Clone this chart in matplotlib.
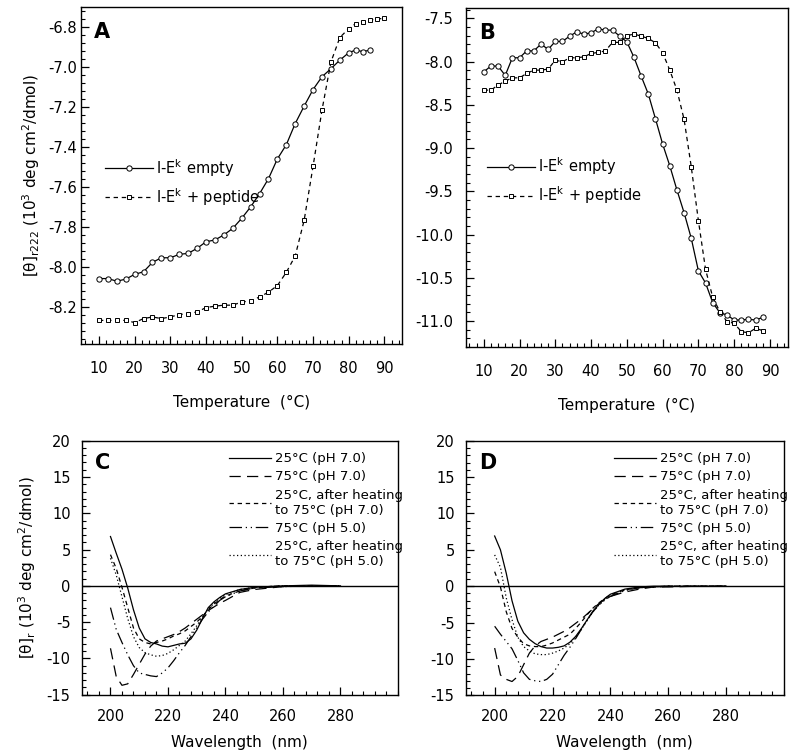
import matplotlib
matplotlib.use("Agg")
import matplotlib.pyplot as plt
from matplotlib.ticker import MultipleLocator, AutoMinorLocator, FormatStrFormatter

plt.rcParams['font.family'] = ['DejaVu Sans']
plt.rcParams['axes.unicode_minus'] = False
plt.rcParams['mathtext.default'] = 'regular'

# ---- Panel A: thermal melt, [theta] at 222 nm ----
tempA_empty = [10, 12.5, 15, 17.5, 20, 22.5, 25, 27.5, 30, 32.5, 35, 37.5, 40, 42.5, 45, 47.5,
               50, 52.5, 55, 57.5, 60, 62.5, 65, 67.5, 70, 72.5, 75, 77.5, 80, 82, 84, 86]
thetaA_empty = [-8.058, -8.058, -8.071, -8.061, -8.037, -8.024, -7.977, -7.954, -7.954, -7.937,
                -7.932, -7.907, -7.874, -7.865, -7.840, -7.807, -7.757, -7.700, -7.634, -7.559,
                -7.460, -7.389, -7.283, -7.196, -7.113, -7.049, -7.009, -6.966, -6.929, -6.915,
                -6.924, -6.915]
tempA_pep = [10, 12.5, 15, 17.5, 20, 22.5, 25, 27.5, 30, 32.5, 35, 37.5, 40, 42.5, 45, 47.5,
             50, 52.5, 55, 57.5, 60, 62.5, 65, 67.5, 70, 72.5, 75, 77.5, 80, 82, 84, 86, 88, 90]
thetaA_pep = [-8.267, -8.267, -8.267, -8.267, -8.278, -8.258, -8.250, -8.258, -8.250, -8.238,
              -8.233, -8.225, -8.203, -8.196, -8.191, -8.191, -8.175, -8.170, -8.150, -8.126,
              -8.093, -8.027, -7.945, -7.767, -7.497, -7.216, -6.976, -6.853, -6.808, -6.783,
              -6.773, -6.765, -6.761, -6.756]

# ---- Panel B ----
tempB = [10, 12, 14, 16, 18, 20, 22, 24, 26, 28, 30, 32, 34, 36, 38, 40, 42, 44, 46, 48,
         50, 52, 54, 56, 58, 60, 62, 64, 66, 68, 70, 72, 74, 76, 78, 80, 82, 84, 86, 88]
thetaB_empty = [-8.117, -8.051, -8.051, -8.159, -7.955, -7.955, -7.875, -7.875, -7.797, -7.858,
                -7.766, -7.766, -7.705, -7.655, -7.682, -7.666, -7.620, -7.635, -7.635, -7.705,
                -7.771, -7.951, -8.167, -8.375, -8.661, -8.953, -9.204, -9.485, -9.747, -10.043,
                -10.420, -10.560, -10.788, -10.903, -10.930, -10.988, -10.988, -10.980, -10.988,
                -10.957]
thetaB_pep = [-8.329, -8.329, -8.271, -8.225, -8.187, -8.187, -8.136, -8.098, -8.098, -8.086,
              -7.982, -8.002, -7.955, -7.955, -7.944, -7.905, -7.893, -7.875, -7.777, -7.777,
              -7.700, -7.680, -7.705, -7.731, -7.782, -7.897, -8.098, -8.329, -8.668, -9.215,
              -9.840, -10.402, -10.725, -10.892, -11.007, -11.026, -11.123, -11.135, -11.084,
              -11.111]

melt_labels = [r'I-E$^{\mathrm{k}}$ empty', r'I-E$^{\mathrm{k}}$ + peptide']

# ---- Panel C: CD spectra ----
wlC = [200, 202, 204, 206, 208, 210, 212, 214, 216, 218, 220, 222, 224, 226, 228, 230,
       232, 234, 236, 238, 240, 245, 250, 255, 260, 270, 280]
C_25_ph7 = [6.8, 4.5, 2.3, -0.3, -3.3, -5.8, -7.3, -7.8, -8.0, -8.3, -8.4, -8.2, -8.0, -7.9,
            -7.3, -6.1, -4.5, -3.0, -2.2, -1.6, -1.1, -0.5, -0.2, -0.1, 0.0, 0.1, 0.0]
C_75_ph7 = [-8.6, -12.5, -13.7, -13.5, -12.2, -10.8, -9.4, -8.3, -7.6, -7.3, -7.0, -6.7, -6.3,
            -5.8, -5.2, -4.6, -4.0, -3.4, -2.9, -2.4, -2.0, -0.9, -0.5, -0.3, -0.1, 0.0, 0.0]
C_25h_ph7 = [4.3, 2.4, -0.2, -3.0, -5.8, -7.3, -7.8, -8.0, -7.8, -7.6, -7.3, -6.9, -6.6, -6.2,
             -5.6, -5.0, -4.2, -3.3, -2.5, -1.9, -1.4, -0.7, -0.3, -0.1, 0.0, 0.0, 0.0]
C_75_ph5 = [-3.0, -6.0, -7.8, -9.5, -11.0, -12.0, -12.2, -12.4, -12.5, -12.0, -11.3, -10.3, -9.2,
            -8.2, -7.0, -5.8, -4.6, -3.6, -2.8, -2.0, -1.5, -0.7, -0.3, -0.2, -0.1, 0.0, 0.0]
C_25h_ph5 = [3.8, 1.5, -1.5, -4.5, -7.0, -8.5, -9.2, -9.5, -9.7, -9.6, -9.3, -8.8, -8.2, -7.6,
             -6.6, -5.5, -4.3, -3.2, -2.4, -1.7, -1.2, -0.5, -0.2, -0.1, 0.0, 0.0, 0.0]

# ---- Panel D ----
wlD = [200, 202, 204, 206, 208, 210, 212, 214, 216, 218, 220, 222, 224, 226, 228, 230,
       232, 234, 236, 238, 240, 245, 250, 255, 260, 270, 280]
D_25_ph7 = [6.9, 5.0, 1.8, -2.0, -4.8, -6.4, -7.3, -7.9, -8.3, -8.5, -8.5, -8.4, -8.2, -7.7,
            -6.9, -5.8, -4.6, -3.4, -2.5, -1.7, -1.1, -0.4, -0.1, 0.0, 0.0, 0.0, 0.0]
D_75_ph7 = [-8.5, -12.2, -12.8, -13.1, -12.4, -10.8, -9.2, -8.2, -7.6, -7.3, -7.0, -6.6, -6.2,
            -5.7, -5.1, -4.5, -3.8, -3.1, -2.4, -1.8, -1.4, -0.8, -0.4, -0.1, -0.1, 0.0, 0.0]
D_25h_ph7 = [2.0, -0.1, -3.5, -5.8, -7.0, -7.9, -8.2, -8.3, -8.3, -8.1, -7.8, -7.4, -7.0, -6.6,
             -5.8, -4.9, -3.9, -3.0, -2.3, -1.7, -1.2, -0.5, -0.2, -0.1, 0.0, 0.0, 0.0]
D_75_ph5 = [-5.5, -6.6, -7.6, -8.6, -10.2, -11.9, -12.8, -13.0, -13.1, -12.8, -12.1, -10.8, -9.5,
            -8.4, -7.2, -5.9, -4.6, -3.5, -2.6, -1.9, -1.4, -0.6, -0.2, -0.1, 0.0, 0.0, 0.0]
D_25h_ph5 = [4.3, 2.6, -1.6, -4.6, -7.0, -8.3, -8.9, -9.3, -9.4, -9.4, -9.2, -8.9, -8.5, -7.9,
             -7.0, -5.9, -4.7, -3.5, -2.6, -1.9, -1.3, -0.5, -0.2, -0.1, 0.0, 0.0, 0.0]

spec_labels = ['25\u00b0C (pH 7.0)', '75\u00b0C (pH 7.0)',
               '25\u00b0C, after heating\nto 75\u00b0C (pH 7.0)', '75\u00b0C (pH 5.0)',
               '25\u00b0C, after heating\nto 75\u00b0C (pH 5.0)']
spec_styles = ['-', (0, (9, 5)), (0, (3.5, 3)), (0, (10, 3, 1, 3, 1, 3)), (0, (1, 2))]

fig = plt.figure(figsize=(7.95, 7.54), dpi=100)
axA = fig.add_axes([0.102, 0.5438, 0.404, 0.447])
axB = fig.add_axes([0.586, 0.5398, 0.405, 0.4495])
axC = fig.add_axes([0.1028, 0.0786, 0.3978, 0.3369])
axD = fig.add_axes([0.5858, 0.0778, 0.4004, 0.3377])


def style_axes(ax, ypad):
    for s in ax.spines.values():
        s.set_linewidth(1.0)
    ax.tick_params(which='both', direction='in', top=False, right=False, labelsize=10.5)
    ax.tick_params(which='major', length=6, width=0.9)
    ax.tick_params(which='minor', length=3, width=0.8)
    ax.tick_params(axis='y', pad=ypad)


# --- A ---
axA.plot(tempA_empty, thetaA_empty, '-', color='black', lw=0.9, marker='o', ms=3.8,
         mfc='white', mec='black', mew=0.7, label=melt_labels[0])
axA.plot(tempA_pep, thetaA_pep, '--', color='black', lw=0.9, dashes=(3.5, 3), marker='s', ms=3.5,
         mfc='white', mec='black', mew=0.7, label=melt_labels[1])
axA.set_xlim(5, 95)
axA.set_ylim(-8.385, -6.70)
axA.xaxis.set_minor_locator(MultipleLocator(2))
axA.yaxis.set_major_locator(MultipleLocator(0.2))
axA.yaxis.set_minor_locator(AutoMinorLocator(5))
axA.yaxis.set_major_formatter(FormatStrFormatter('%.1f'))
style_axes(axA, 3)
axA.tick_params(axis='x', pad=12)
axA.set_xticks(range(10, 100, 10))
axA.set_xlabel('Temperature  (\u00b0C)', fontsize=11, labelpad=14)
axA.set_ylabel(r'[$\theta$]$_{r222}$ (10$^3$ deg cm$^2$/dmol)', fontsize=11, labelpad=4)
axA.text(0.04, 0.955, 'A', transform=axA.transAxes, ha='left', va='top',
         fontsize=15, fontweight='bold')
axA.legend(loc='center left', bbox_to_anchor=(0.075, 0.48), frameon=False, fontsize=10.5,
           handlelength=3.3, handletextpad=0.2, labelspacing=0.5, borderpad=0,
           borderaxespad=0, numpoints=1)

# --- B ---
axB.plot(tempB, thetaB_empty, '-', color='black', lw=0.9, marker='o', ms=3.8,
         mfc='white', mec='black', mew=0.7, label=melt_labels[0])
axB.plot(tempB, thetaB_pep, '--', color='black', lw=0.9, dashes=(3.5, 3), marker='s', ms=3.5,
         mfc='white', mec='black', mew=0.7, label=melt_labels[1])
axB.set_xlim(5, 95)
axB.set_ylim(-11.3, -7.38)
axB.xaxis.set_minor_locator(MultipleLocator(2))
axB.yaxis.set_major_locator(MultipleLocator(0.5))
axB.yaxis.set_minor_locator(AutoMinorLocator(5))
axB.yaxis.set_major_formatter(FormatStrFormatter('%.1f'))
style_axes(axB, 9)
axB.tick_params(axis='x', pad=12)
axB.set_xticks(range(10, 100, 10))
axB.set_xlabel('Temperature  (\u00b0C)', fontsize=11, labelpad=14)
axB.text(0.04, 0.955, 'B', transform=axB.transAxes, ha='left', va='top',
         fontsize=15, fontweight='bold')
axB.legend(loc='center left', bbox_to_anchor=(0.065, 0.49), frameon=False, fontsize=10.5,
           handlelength=3.3, handletextpad=0.2, labelspacing=0.5, borderpad=0,
           borderaxespad=0, numpoints=1)

# --- C and D ---
for ax, wl, curves, letter in [(axC, wlC, [C_25_ph7, C_75_ph7, C_25h_ph7, C_75_ph5, C_25h_ph5], 'C'),
                               (axD, wlD, [D_25_ph7, D_75_ph7, D_25h_ph7, D_75_ph5, D_25h_ph5], 'D')]:
    for vals, ls, lab in zip(curves, spec_styles, spec_labels):
        ax.plot(wl, vals, color='black', lw=0.9, linestyle=ls, label=lab)
    ax.axhline(0, color='black', lw=1.0)
    ax.set_xlim(190, 300)
    ax.set_ylim(-15, 20)
    ax.set_xticks(range(200, 300, 20))
    ax.xaxis.set_minor_locator(MultipleLocator(4))
    ax.yaxis.set_major_locator(MultipleLocator(5))
    ax.yaxis.set_minor_locator(AutoMinorLocator(5))
    style_axes(ax, 8)
    ax.tick_params(axis='x', pad=10)
    ax.set_xlabel('Wavelength  (nm)', fontsize=11, labelpad=8)
    ax.text(0.042, 0.95, letter, transform=ax.transAxes, ha='left', va='top',
            fontsize=15, fontweight='bold')
    ax.legend(loc='upper left', bbox_to_anchor=(0.465, 0.955), frameon=False, fontsize=9.5,
              handlelength=3.2, handletextpad=0.3, labelspacing=0.4, borderpad=0,
              borderaxespad=0)

axC.set_ylabel(r'[$\theta$]$_r$ (10$^3$ deg cm$^2$/dmol)', fontsize=11, labelpad=6)

fig.savefig('out.png', dpi=100)
